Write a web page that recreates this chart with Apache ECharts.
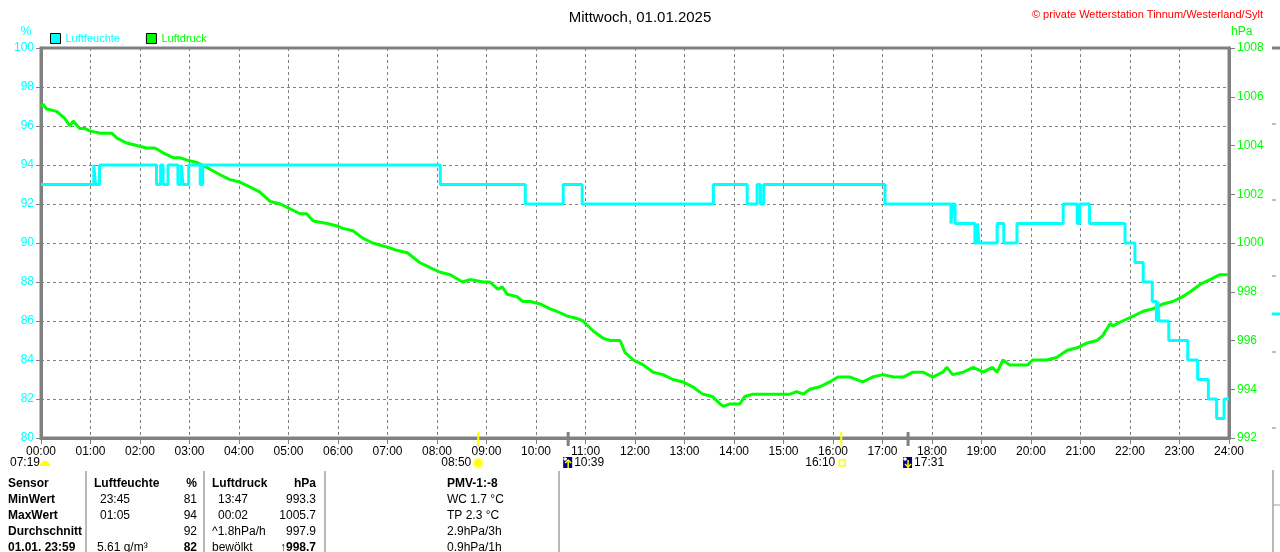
<!DOCTYPE html>
<html><head><meta charset="utf-8">
<script src="https://cdn.jsdelivr.net/npm/echarts@6/dist/echarts.min.js"></script>
<style>html,body{margin:0;padding:0;background:#fff}#c{width:1280px;height:552px}</style>
</head><body><div id="c"></div>
<script>
// ---------- data ----------
const chartTitle = 'Mittwoch, 01.01.2025';
const copyright = '\u00A9 private Wetterstation Tinnum/Westerland/Sylt';
const xTickLabels = ['00:00','01:00','02:00','03:00','04:00','05:00','06:00','07:00','08:00','09:00','10:00','11:00','12:00','13:00','14:00','15:00','16:00','17:00','18:00','19:00','20:00','21:00','22:00','23:00','24:00'];

// Luftfeuchte (%): minute of day where value changes, and the value from then on
const humTimes = [0,64,66,71,140,145,148,154,166,170,172,179,193,196,484,587,633,656,815,856,868,872,876,1023,1103,1105,1108,1132,1135,1137,1159,1167,1183,1239,1256,1259,1271,1314,1326,1336,1347,1352,1354,1355,1367,1390,1402,1415,1425,1434,1440];
const humValues = [93,94,93,94,93,94,93,94,93,94,93,94,93,94,93,92,93,92,93,92,93,92,93,92,91,92,91,90,91,90,91,90,91,92,91,92,91,90,89,88,87,86,87,86,85,84,83,82,81,82,82];

// Luftdruck (hPa): minute of day and value
const presTimes = [0,2,7,19,29,35,39,47,53,59,72,80,86,92,104,116,128,138,148,160,168,177,189,201,217,229,241,253,265,278,290,302,314,322,330,347,359,366,378,390,402,423,431,444,459,471,484,496,511,520,536,544,554,559,565,577,584,593,605,617,625,638,650,657,669,681,690,702,708,718,730,742,754,766,778,790,802,814,823,827,835,847,853,863,875,887,896,908,916,924,932,944,956,966,981,996,1008,1021,1033,1045,1057,1069,1081,1093,1098,1105,1118,1130,1142,1153,1159,1166,1174,1187,1196,1202,1219,1231,1244,1256,1268,1280,1287,1296,1299,1311,1324,1336,1348,1360,1372,1384,1393,1405,1417,1429,1439];
const presValues = [1005.6,1005.7,1005.5,1005.4,1005.1,1004.8,1005.0,1004.7,1004.7,1004.6,1004.5,1004.5,1004.5,1004.3,1004.1,1004.0,1003.9,1003.9,1003.7,1003.5,1003.5,1003.4,1003.3,1003.1,1002.8,1002.6,1002.5,1002.3,1002.1,1001.7,1001.6,1001.4,1001.2,1001.2,1000.9,1000.8,1000.7,1000.6,1000.5,1000.2,1000.0,999.8,999.7,999.6,999.2,999.0,998.8,998.7,998.4,998.5,998.4,998.4,998.1,998.2,997.9,997.8,997.6,997.6,997.5,997.3,997.2,997.0,996.9,996.8,996.4,996.1,996.0,996.0,995.5,995.2,995.0,994.7,994.6,994.4,994.3,994.1,993.8,993.7,993.4,993.3,993.4,993.4,993.7,993.8,993.8,993.8,993.8,993.8,993.9,993.8,994.0,994.1,994.3,994.5,994.5,994.3,994.5,994.6,994.5,994.5,994.7,994.7,994.5,994.7,994.9,994.6,994.7,994.9,994.7,994.9,994.7,995.2,995.0,995.0,995.0,995.2,995.2,995.3,995.6,995.7,995.9,996.0,996.2,996.7,996.6,996.8,997.0,997.2,997.3,997.5,997.6,997.8,998.0,998.3,998.5,998.7,998.7];

// sun / moon events
const eventTimes = ['08:50','10:39','16:10','17:31'];
const eventTypes = ['sunrise','moonrise','sunset','moonset'];
const leftEventLabel = '07:19';

// table
const tableHeader = ['Sensor','Luftfeuchte','%','Luftdruck','hPa','PMV-1:-8'];
const rowNames = ['MinWert','MaxWert','Durchschnitt','01.01. 23:59'];
const humTimeCol = ['23:45','01:05','','5.61 g/m\u00B3'];
const humValCol = ['81','94','92','82'];
const presTimeCol = ['13:47','00:02','^1.8hPa/h','bew\u00F6lkt'];
const presValCol = ['993.3','1005.7','997.9','\u2191998.7'];
const pmvCol = ['WC 1.7 \u00B0C','TP 2.3 \u00B0C','2.9hPa/3h','0.9hPa/1h'];

// ---------- chart ----------
const FONT = 'Liberation Sans, Arial, sans-serif';
const CYAN = '#00ffff', GREEN = '#00ff00', GRAY = '#808080';
const chart = echarts.init(document.getElementById('c'));
const toMin = s => { const p = s.split(':').map(Number); return p[0]*60 + p[1]; };

chart.setOption({
  animation: false,
  backgroundColor: '#fff',
  textStyle: { fontFamily: FONT },
  title: [
    { text: chartTitle, left: 'center', top: 5, textStyle: { fontSize: 15, fontWeight: 'normal', color: '#000', fontFamily: FONT } },
    { text: copyright, right: 12, top: 4, textStyle: { fontSize: 11, fontWeight: 'normal', color: '#ff0000', fontFamily: FONT } }
  ],
  legend: {
    left: 45, top: 28, icon: 'rect', itemWidth: 10, itemHeight: 10, itemGap: 26,
    itemStyle: { borderColor: '#000', borderWidth: 1 },
    textStyle: { fontSize: 11, fontFamily: FONT },
    data: [
      { name: 'Luftfeuchte', textStyle: { color: CYAN } },
      { name: 'Luftdruck', textStyle: { color: GREEN } }
    ]
  },
  grid: { left: 41, right: 51, top: 48, bottom: 114, show: true, borderColor: GRAY, borderWidth: 3, backgroundColor: 'transparent' },
  xAxis: {
    type: 'value', min: 0, max: 1440, interval: 60,
    axisLine: { show: true, lineStyle: { color: GRAY, width: 3 } },
    axisTick: { show: true, length: 6, lineStyle: { color: GRAY, width: 1 } },
    axisLabel: { color: '#000', fontSize: 12, margin: 8, fontFamily: FONT, formatter: v => xTickLabels[Math.round(v/60)] },
    splitLine: { show: true, lineStyle: { color: GRAY, type: [3,3], width: 1 } }
  },
  yAxis: [
    {
      type: 'value', min: 80, max: 100, interval: 2, position: 'left',
      axisLine: { show: true, lineStyle: { color: GRAY, width: 3 } },
      axisTick: { show: true, length: 5, lineStyle: { color: GRAY } },
      axisLabel: { color: CYAN, fontSize: 12, margin: 7, fontFamily: FONT, formatter: v => String(v) },
      splitLine: { show: true, lineStyle: { color: GRAY, type: [3,3], width: 1 } }
    },
    {
      type: 'value', min: 992, max: 1008, interval: 2, position: 'right',
      axisLine: { show: true, lineStyle: { color: GRAY, width: 3 } },
      axisTick: { show: true, length: 6, lineStyle: { color: GRAY } },
      axisLabel: { color: GREEN, fontSize: 12, margin: 8, fontFamily: FONT, formatter: v => String(v) },
      splitLine: { show: false }
    }
  ],
  series: [
    {
      name: 'Luftdruck', type: 'line', yAxisIndex: 1, z: 2, showSymbol: false, symbol: 'none',
      color: GREEN, lineStyle: { color: GREEN, width: 3 },
      data: presTimes.map((t, i) => [t, presValues[i]])
    },
    {
      name: 'Luftfeuchte', type: 'line', yAxisIndex: 0, z: 3, step: 'end', showSymbol: false, symbol: 'none',
      color: CYAN, lineStyle: { color: CYAN, width: 3 },
      data: humTimes.map((t, i) => [t, humValues[i]])
    }
  ]
});

// ---------- annotations ----------
const g = [];
const axisY = chart.convertToPixel({ yAxisIndex: 0 }, 80);
const topY = chart.convertToPixel({ yAxisIndex: 0 }, 100);
const xL = chart.convertToPixel({ xAxisIndex: 0 }, 0);
const xR = chart.convertToPixel({ xAxisIndex: 0 }, 1440);
const txt = (x, y, s, o) => g.push(Object.assign({ type: 'text', x, y, z: 50, style: Object.assign({ text: s, fill: '#000', font: '12px ' + FONT, textVerticalAlign: 'middle', textAlign: 'left' }, o || {}) }));

txt(xL - 15, topY - 16, '%', { fill: CYAN, textAlign: 'center', font: '12px ' + FONT });
txt(xR + 2, topY - 16, 'hPa', { fill: GREEN, font: '12px ' + FONT });

const evY = axisY + 25;
eventTimes.forEach((s, i) => {
  const x = chart.convertToPixel({ xAxisIndex: 0 }, toMin(s));
  const type = eventTypes[i];
  const sun = type.startsWith('sun');
  g.push({ type: 'line', z: 40, shape: { x1: x, y1: axisY - 6, x2: x, y2: axisY + 8 }, style: { stroke: sun ? '#ffff00' : GRAY, lineWidth: sun ? 2 : 3 } });
  if (type === 'sunrise') {
    g.push({ type: 'circle', z: 40, shape: { cx: x, cy: evY, r: 6 }, style: { fill: '#ffffb0' } });
    g.push({ type: 'circle', z: 41, shape: { cx: x, cy: evY, r: 4 }, style: { fill: '#ffff00' } });
    txt(x - 7, evY, s, { textAlign: 'right' });
  } else if (type === 'sunset') {
    g.push({ type: 'rect', z: 40, shape: { x: x - 2, y: evY - 3, width: 6, height: 6 }, style: { fill: '#fff', stroke: '#ffff00', lineWidth: 1.5 } });
    txt(x - 6, evY, s, { textAlign: 'right' });
  } else {
    g.push({ type: 'rect', z: 40, shape: { x: x - 5, y: evY - 6, width: 9, height: 11 }, style: { fill: '#000080' } });
    g.push({ type: 'circle', z: 41, shape: { cx: x - 3, cy: evY - 4, r: 1.8 }, style: { fill: '#ffffff' } });
    g.push({ type: 'line', z: 41, shape: { x1: x, y1: evY - 3, x2: x, y2: evY + 5 }, style: { stroke: '#ffff00', lineWidth: 1.5 } });
    const ay = type === 'moonrise' ? evY - 3 : evY + 4;
    const d = type === 'moonrise' ? 3 : -3;
    g.push({ type: 'polyline', z: 41, shape: { points: [[x - 3, ay + d], [x, ay], [x + 3, ay + d]] }, style: { stroke: '#ffff00', lineWidth: 1.5, fill: null } });
    txt(x + 6, evY, s, { textAlign: 'left' });
  }
});
txt(10, evY, leftEventLabel, { textAlign: 'left' });
g.push({ type: 'sector', z: 40, shape: { cx: 45, cy: evY + 3, r0: 0, r: 5, startAngle: Math.PI, endAngle: 2 * Math.PI }, style: { fill: '#ffff00' } });

// table
const rowY = [484, 500, 516, 532, 548];
const B = 'bold 12px ' + FONT, N = '12px ' + FONT;
[86, 204, 325, 559].forEach(x => g.push({ type: 'line', z: 30, shape: { x1: x, y1: 471, x2: x, y2: 552 }, style: { stroke: '#a0a0a0', lineWidth: 1.5 } }));
txt(8, rowY[0], tableHeader[0], { font: B });
txt(94, rowY[0], tableHeader[1], { font: B });
txt(197, rowY[0], tableHeader[2], { font: B, textAlign: 'right' });
txt(212, rowY[0], tableHeader[3], { font: B });
txt(316, rowY[0], tableHeader[4], { font: B, textAlign: 'right' });
txt(447, rowY[0], tableHeader[5], { font: B });
rowNames.forEach((r, i) => {
  const y = rowY[i + 1], last = i === rowNames.length - 1;
  txt(8, y, r, { font: B });
  txt(last ? 97 : 100, y, humTimeCol[i], { font: N });
  txt(197, y, humValCol[i], { font: last ? B : N, textAlign: 'right' });
  txt(presTimeCol[i].startsWith('^') || last ? 212 : 218, y, presTimeCol[i], { font: N });
  txt(316, y, presValCol[i], { font: last ? B : N, textAlign: 'right' });
  txt(447, y, pmvCol[i], { font: N });
});

// neighbouring panel fragments at the right edge
g.push({ type: 'line', shape: { x1: 1272, y1: topY, x2: 1280, y2: topY }, style: { stroke: GRAY, lineWidth: 3 } });
[124, 200, 276, 352, 428].forEach(y => g.push({ type: 'line', shape: { x1: 1272, y1: y, x2: 1276, y2: y }, style: { stroke: GRAY, lineWidth: 1 } }));
g.push({ type: 'line', shape: { x1: 1272, y1: 314, x2: 1280, y2: 314 }, style: { stroke: CYAN, lineWidth: 3 } });
g.push({ type: 'line', shape: { x1: 1273, y1: 470, x2: 1273, y2: 552 }, style: { stroke: '#a0a0a0', lineWidth: 1.5 } });
g.push({ type: 'line', shape: { x1: 1273, y1: 505, x2: 1280, y2: 505 }, style: { stroke: '#a0a0a0', lineWidth: 1 } });

chart.setOption({ graphic: g });
</script>
</body></html>
